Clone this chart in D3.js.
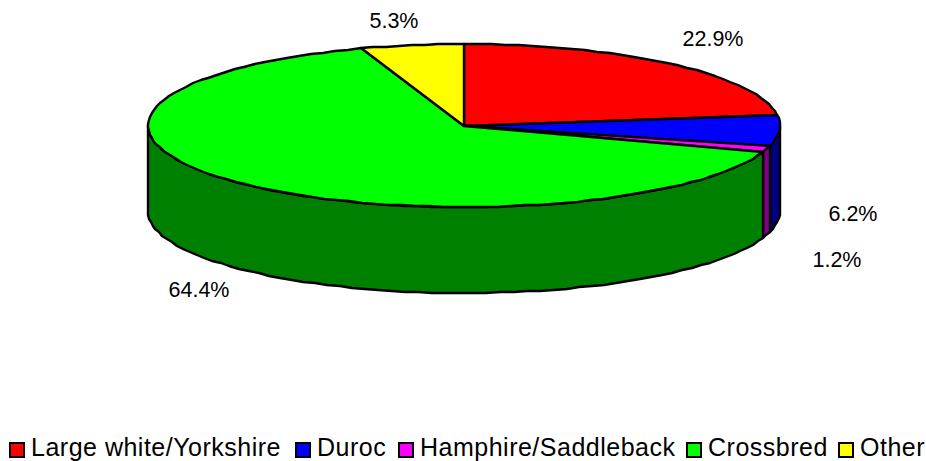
<!DOCTYPE html>
<html><head><meta charset="utf-8">
<script src="https://cdn.jsdelivr.net/npm/d3@7"></script>
<style>html,body{margin:0;padding:0;background:#fff}svg{display:block}text{font-family:"Liberation Sans",Arial,sans-serif;fill:#000}</style>
</head><body><div id="c"></div>
<script>
const categories=["Large white/Yorkshire","Duroc","Hamphire/Saddleback","Crossbred","Other"];
const values=[22.9,6.2,1.2,64.4,5.3];
const labels=["22.9%","6.2%","1.2%","64.4%","5.3%"];
const topColors=["#ff0000","#0000ff","#ff00ff","#00ff00","#ffff00"];
const sideColors=["#800000","#000080","#800080","#008000","#808000"];
const labelX=[713,853,837,199,394];
const labelY=[39,214,260,290,21];
const legendX=[9,295,398,686,838];

const W=926,H=461,cx=464,cy=125.5,rx=316,ry=81.5,depth=86;
const svg=d3.select("#c").append("svg").attr("width",W).attr("height",H);
const pie=d3.pie().sort(null).value(d=>d)(values);
const px=d3.scaleLinear().domain([-1,1]).range([cx-rx,cx+rx]);
const py=d3.scaleLinear().domain([-1,1]).range([cy+ry,cy-ry]);
const line=d3.line().x(d=>d[0]).y(d=>d[1]);
const step=Math.PI/72;
const pt=(a,dy=0)=>[Math.round(px(Math.sin(a))),Math.round(py(Math.cos(a))+dy)];
function arcPts(a0,a1,dy=0){
  const p=[];const n=Math.max(1,Math.ceil((a1-a0)/step));
  for(let i=0;i<=n;i++)p.push(pt(a0+(a1-a0)*i/n,dy));
  return p;
}
const stroke={stroke:"#000","stroke-width":2.4,"stroke-linejoin":"round"};
function style(s){for(const k in stroke)s.attr(k,stroke[k]);return s;}
const front=[Math.PI/2,3*Math.PI/2];
pie.forEach((d,i)=>{
  const a0=Math.max(d.startAngle,front[0]),a1=Math.min(d.endAngle,front[1]);
  if(a1<=a0)return;
  const pts=arcPts(a0,a1).concat(arcPts(a0,a1,depth).reverse());
  style(svg.append("path")).attr("d",line(pts)+"Z").attr("fill",sideColors[i]);
});
pie.forEach((d,i)=>{
  const pts=[[cx,Math.round(cy)]].concat(arcPts(d.startAngle,d.endAngle));
  style(svg.append("path")).attr("d",line(pts)+"Z").attr("fill",topColors[i]);
});
labels.forEach((t,i)=>{
  svg.append("text").attr("x",labelX[i]).attr("y",labelY[i]+7).attr("text-anchor","middle")
   .attr("font-size",21.5).text(t);
});
categories.forEach((t,i)=>{
  svg.append("rect").attr("x",legendX[i]+1).attr("y",443).attr("width",14).attr("height",14)
   .attr("fill",topColors[i]).attr("stroke","#000").attr("stroke-width",2);
  svg.append("text").attr("x",legendX[i]+22).attr("y",456).attr("font-size",25)
   .attr("letter-spacing",0.5).text(t);
});
</script></body></html>
